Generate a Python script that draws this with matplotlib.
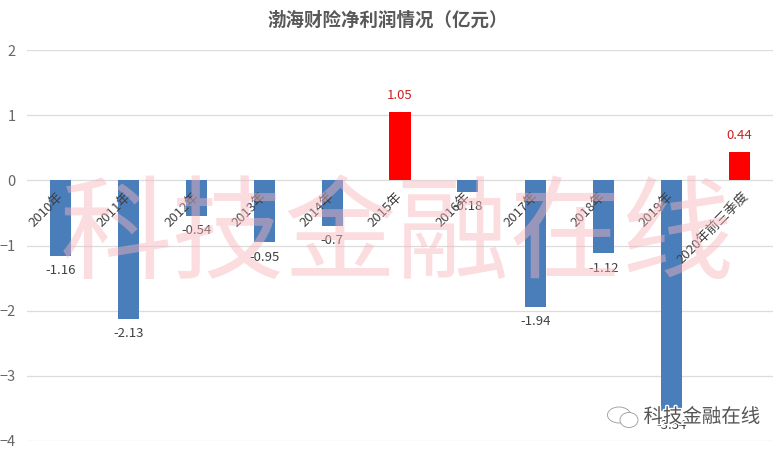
import matplotlib
matplotlib.use("Agg")
import matplotlib.pyplot as plt
import matplotlib.patheffects as pe
from matplotlib.patches import Ellipse

plt.rcParams["font.family"] = ["Noto Sans CJK SC", "DejaVu Sans"]

years = ["2010年", "2011年", "2012年", "2013年", "2014年", "2015年", "2016年",
         "2017年", "2018年", "2019年", "2020年前三季度"]
profit = [-1.16, -2.13, -0.54, -0.95, -0.7, 1.05, -0.18, -1.94, -1.12, -3.54, 0.44]
yticks = [-4, -3, -2, -1, 0, 1, 2]

W, H = 783, 451
fig = plt.figure(figsize=(W / 100, H / 100), dpi=100)
ax = fig.add_axes([27 / W, 1 - 441 / H, 746 / W, 391 / H])

colors = ["#ff0000" if v > 0 else "#4a7ebb" for v in profit]
ax.bar(range(len(years)), profit, width=0.31, color=colors, zorder=2)

ax.set_xlim(-0.5, len(years) - 0.5)
ax.set_ylim(-4, 2)
ax.set_yticks(yticks)
ax.set_xticks([])
ax.grid(axis="y", color="#dcdcdc", lw=0.9, zorder=0)
ax.tick_params(axis="y", length=0, labelsize=10.5, labelcolor="#666666", pad=8)
for s in ax.spines.values():
    s.set_visible(False)

for i, v in enumerate(profit):
    # category labels sit against the zero line, the long one is pushed right
    dx = 2 if len(years[i]) > 5 else -3
    ax.annotate(years[i], (i, 0), xytext=(dx, -7), textcoords="offset points",
                rotation=45, rotation_mode="anchor", ha="right", va="top",
                fontsize=9.5, color="#404040", zorder=4)
    if v > 0:
        ax.annotate(str(v), (i, v), xytext=(0, 7), textcoords="offset points",
                    ha="center", va="bottom", fontsize=9.5, color="#d02020", zorder=4)
    else:
        ax.annotate(str(v), (i, v), xytext=(0, -6), textcoords="offset points",
                    ha="center", va="top", fontsize=9.5, color="#404040", zorder=4)

fig.text(388 / W, 1 - 20 / H, "渤海财险净利润情况（亿元）", ha="center", va="center",
         fontsize=13.3, fontweight="bold", color="#595959")

# watermark across the plot
fig.text(397 / W, 1 - 238 / H, "科技金融在线", ha="center", va="center",
         fontsize=81, color="#f8b4bc", alpha=0.45, zorder=5)

# wechat style stamp at the bottom right
fig.text(702 / W, 1 - 417 / H, "科技金融在线", ha="center", va="center", fontsize=14,
         color="#555555", zorder=6,
         path_effects=[pe.withStroke(linewidth=2, foreground="white")])
for x, y, w, h in [(619, 415, 23, 16), (629, 420, 18, 15)]:
    fig.add_artist(Ellipse((x / W, 1 - y / H), w / W, h / H, fill=True, fc="white",
                           ec="#999999", lw=0.6, zorder=6))

fig.savefig("out.png", dpi=100)
